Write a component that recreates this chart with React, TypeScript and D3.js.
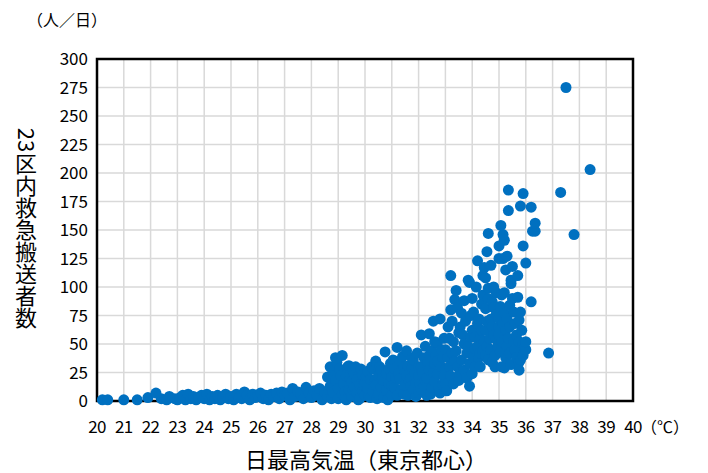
import * as d3 from "d3";

// Tokyo 23 wards: daily max temperature (℃) vs. heatstroke ambulance transports (persons/day)
// values, grouped by temperature band

const coolDays: [number, number][] = [
  [20.2, 1], [20.4, 1], [21.0, 1], [21.5, 1], [21.9, 3], [22.2, 7], [22.4, 2], [22.6, 1],
  [22.7, 4], [22.9, 2], [23.0, 1], [23.1, 3], [23.2, 5], [23.3, 1], [23.4, 6], [23.5, 2],
  [23.6, 4], [23.7, 1], [23.8, 3], [23.9, 5], [24.0, 2], [24.1, 6], [24.2, 1], [24.3, 4],
  [24.4, 2], [24.5, 5], [24.6, 1], [24.7, 3], [24.8, 6], [24.9, 2],
];

const warmDays: [number, number][] = [
  [25.0, 4], [25.1, 1], [25.2, 6], [25.3, 3], [25.4, 2], [25.5, 8], [25.6, 5], [25.7, 1],
  [25.8, 6], [25.9, 3], [26.0, 5], [26.1, 7], [26.2, 2], [26.3, 5], [26.4, 1], [26.5, 6],
  [26.6, 4], [26.7, 7], [26.8, 2], [26.9, 8], [27.0, 5], [27.1, 7], [27.2, 1], [27.3, 11],
  [27.4, 4], [27.5, 8], [27.6, 6], [27.7, 2], [27.8, 12], [27.9, 7], [28.0, 3], [28.1, 9],
  [28.2, 5], [28.3, 11], [28.4, 1], [28.5, 8],
];

const hotDays: [number, number][] = [
  [28.6, 21], [28.6, 4], [28.65, 10], [28.7, 30], [28.7, 13], [28.75, 2], [28.8, 27], [28.8, 8],
  [28.85, 22], [28.9, 38], [28.9, 18], [28.95, 34], [29.0, 2], [29.0, 11], [29.05, 28], [29.1, 22],
  [29.15, 40], [29.15, 6], [29.2, 15], [29.25, 8], [29.3, 22], [29.3, 1], [29.35, 30], [29.4, 31],
  [29.4, 10], [29.45, 20], [29.5, 17], [29.5, 4], [29.55, 10], [29.6, 24], [29.6, 12], [29.65, 30],
  [29.7, 7], [29.7, 19], [29.75, 1], [29.8, 2], [29.8, 14], [29.85, 28], [29.9, 23], [29.9, 9],
  [29.95, 14], [30.0, 16], [30.0, 5], [30.05, 22], [30.1, 26], [30.1, 11], [30.15, 4], [30.2, 3],
  [30.2, 19], [30.25, 30], [30.3, 8], [30.3, 28], [30.35, 17], [30.4, 35], [30.4, 14], [30.45, 32],
  [30.45, 2], [30.5, 22], [30.5, 6], [30.55, 30], [30.6, 12], [30.6, 27], [30.65, 20], [30.7, 18],
  [30.7, 3], [30.75, 43], [30.8, 9], [30.8, 24], [30.85, 1], [30.9, 15], [30.9, 28], [30.95, 33],
  [31.0, 5], [31.0, 21], [31.0, 13],
];

const veryHotDays: [number, number][] = [
  [31.05, 36], [31.1, 12], [31.1, 28], [31.15, 20], [31.2, 47], [31.2, 5], [31.25, 24], [31.3, 19],
  [31.3, 35], [31.35, 10], [31.4, 39], [31.45, 6], [31.45, 30], [31.5, 25], [31.5, 14], [31.55, 44],
  [31.55, 22], [31.6, 31], [31.6, 5], [31.65, 17], [31.7, 20], [31.7, 13], [31.75, 29], [31.75, 38],
  [31.8, 36], [31.8, 10], [31.85, 25], [31.9, 16], [31.9, 4], [31.95, 42], [32.0, 22], [32.0, 7],
  [32.0, 30], [32.05, 15], [32.1, 58], [32.1, 30], [32.1, 10], [32.15, 25], [32.2, 13], [32.2, 38],
  [32.25, 48], [32.25, 18], [32.3, 20], [32.3, 5], [32.35, 34], [32.4, 59], [32.4, 27], [32.4, 40],
  [32.45, 6], [32.5, 44], [32.5, 12], [32.55, 70], [32.55, 25], [32.6, 33], [32.6, 17], [32.6, 52],
  [32.65, 40], [32.7, 51], [32.7, 24], [32.7, 35], [32.75, 12], [32.8, 72], [32.8, 7], [32.85, 30],
  [32.85, 45], [32.9, 38], [32.9, 14], [32.95, 21], [32.95, 55], [33.0, 28], [33.0, 45], [33.0, 15],
];

const extremeDays: [number, number][] = [
  [33.05, 9], [33.1, 65], [33.1, 38], [33.15, 30], [33.15, 55], [33.2, 110], [33.2, 80], [33.2, 22],
  [33.25, 42], [33.25, 70], [33.3, 52], [33.3, 15], [33.35, 89], [33.35, 35], [33.4, 97], [33.4, 44],
  [33.45, 30], [33.45, 82], [33.5, 60], [33.5, 18], [33.55, 65], [33.55, 25], [33.6, 77], [33.6, 36],
  [33.65, 58], [33.7, 27], [33.7, 50], [33.7, 88], [33.75, 70], [33.8, 42], [33.8, 20], [33.85, 106],
  [33.85, 48], [33.9, 13], [33.9, 104], [33.9, 33], [33.95, 56], [33.95, 75], [34.0, 62], [34.0, 24],
  [34.0, 90], [34.05, 78], [34.05, 38], [34.1, 46], [34.1, 30], [34.1, 56], [34.15, 100], [34.2, 123],
  [34.2, 68], [34.2, 48], [34.25, 38], [34.25, 72], [34.3, 30], [34.3, 55], [34.3, 42], [34.35, 85],
  [34.35, 62], [34.4, 93], [34.4, 44], [34.4, 110], [34.45, 117], [34.45, 52], [34.5, 81], [34.5, 108],
  [34.5, 62], [34.5, 40], [34.55, 48], [34.55, 131], [34.55, 70], [34.6, 147], [34.6, 99], [34.6, 36],
  [34.6, 90], [34.65, 55], [34.7, 119], [34.7, 72], [34.7, 45], [34.75, 87], [34.75, 34], [34.75, 65],
  [34.8, 100], [34.8, 58], [34.8, 82], [34.85, 40], [34.85, 30], [34.9, 54], [34.9, 76], [34.9, 95],
  [34.95, 48], [35.0, 136], [35.0, 125], [35.0, 65], [35.0, 58], [35.0, 72],
];

const hottestDays: [number, number][] = [
  [35.05, 43], [35.05, 83], [35.07, 154], [35.1, 93], [35.1, 30], [35.1, 52], [35.15, 146],
  [35.15, 125], [35.15, 68], [35.2, 141], [35.2, 77], [35.2, 29], [35.2, 95], [35.25, 62],
  [35.25, 115], [35.25, 38], [35.3, 127], [35.3, 48], [35.3, 72], [35.35, 185], [35.35, 167],
  [35.35, 55], [35.4, 84], [35.4, 42], [35.4, 65], [35.45, 106], [35.45, 103], [35.45, 32],
  [35.5, 118], [35.5, 90], [35.55, 53], [35.55, 78], [35.6, 68], [35.6, 45], [35.65, 38],
  [35.65, 58], [35.7, 91], [35.7, 110], [35.75, 71], [35.75, 34], [35.75, 27], [35.75, 52],
  [35.8, 171], [35.8, 78], [35.8, 36], [35.85, 62], [35.9, 182], [35.9, 136], [35.9, 50],
  [35.9, 40], [35.95, 46], [36.0, 121], [36.0, 45], [36.0, 52], [36.2, 170], [36.2, 87],
  [36.25, 149], [36.35, 149], [36.35, 156], [36.85, 42], [37.3, 183], [37.5, 275], [37.8, 146],
  [38.4, 203],
];

const xTicks = [20, 21, 22, 23, 24, 25, 26, 27, 28, 29, 30, 31, 32, 33, 34, 35, 36, 37, 38, 39, 40];
const yTicks = [0, 25, 50, 75, 100, 125, 150, 175, 200, 225, 250, 275, 300];

const W = 708;
const H = 473;
const DOT = "#0070C0";
const FONT = "'Noto Sans CJK JP', 'Noto Sans', sans-serif";

export default function App() {
  const x = d3.scaleLinear().domain([20, 40]).range([97, 633]);
  const y = d3.scaleLinear().domain([0, 300]).range([401, 59]);

  const points = [...coolDays, ...warmDays, ...hotDays, ...veryHotDays, ...extremeDays, ...hottestDays];

  return (
    <svg
      width={W}
      height={H}
      style={{ position: "absolute", left: 0, top: 0, background: "#fff" }}
      fontFamily={FONT}
    >
      {/* grid */}
      {xTicks.map((t) => (
        <line key={"gx" + t} x1={x(t)} x2={x(t)} y1={y(300)} y2={y(0)} stroke="#d9d9d9" strokeWidth={1.5} />
      ))}
      {yTicks.map((t) => (
        <line key={"gy" + t} x1={x(20)} x2={x(40)} y1={y(t)} y2={y(t)} stroke="#d9d9d9" strokeWidth={1.5} />
      ))}
      <rect
        x={x(20)}
        y={y(300)}
        width={x(40) - x(20)}
        height={y(0) - y(300)}
        fill="none"
        stroke="#000"
        strokeWidth={2.5}
      />

      {/* tick labels */}
      {yTicks.map((t) => (
        <text key={"ly" + t} x={88} y={y(t)} dy="0.36em" textAnchor="end" fontSize={17} fill="#000">
          {t}
        </text>
      ))}
      {xTicks.map((t) => (
        <text key={"lx" + t} x={x(t)} y={433} textAnchor="middle" fontSize={17} fill="#000" letterSpacing={-0.6}>
          {t}
        </text>
      ))}
      <text x={641} y={433} fontSize={16} fill="#000">（℃）</text>
      <text x={27} y={26} fontSize={16} fill="#000">（人／日）</text>

      {/* axis titles */}
      <text x={366} y={468} textAnchor="middle" fontSize={22} fill="#000">
        日最高気温（東京都心）
      </text>
      <g transform="translate(26,140) rotate(90)">
        <text x={0} y={0} textAnchor="middle" dy="0.36em" fontSize={22} fill="#000">
          23
        </text>
      </g>
      <text
        x={26}
        y={153}
        fontSize={22}
        fill="#000"
        style={{ writingMode: "vertical-rl" }}
      >
        区内救急搬送者数
      </text>

      {/* points */}
      {points.map(([t, n], i) => (
        <circle key={i} cx={x(t)} cy={y(n)} r={5.5} fill={DOT} />
      ))}
    </svg>
  );
}
